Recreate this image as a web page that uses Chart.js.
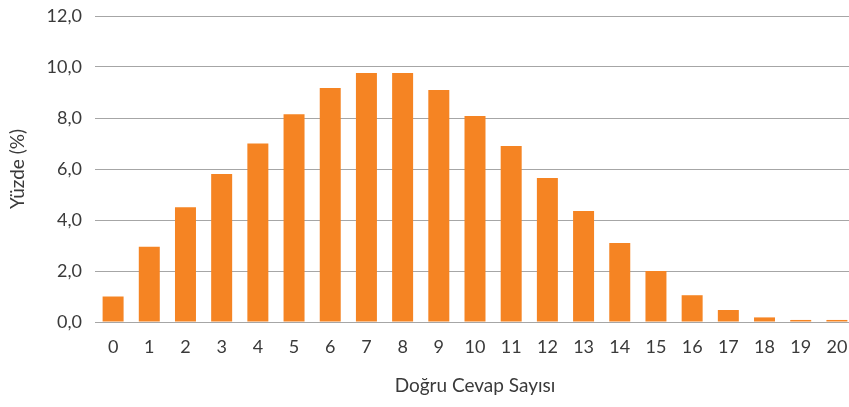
<!DOCTYPE html>
<html>
<head>
<meta charset="utf-8">
<script src="https://cdn.jsdelivr.net/npm/chart.js@4.4.1/dist/chart.umd.min.js"></script>
<style>
  html, body { margin: 0; padding: 0; background: #fff; overflow: hidden; }
  #chart { display: block; }
</style>
</head>
<body>
<canvas id="chart" width="855" height="407"></canvas>
<script>
// Data
const answerCounts = ['0','1','2','3','4','5','6','7','8','9','10','11','12','13','14','15','16','17','18','19','20'];
const percentages = [1.0, 2.95, 4.5, 5.8, 7.0, 8.15, 9.18, 9.76, 9.76, 9.1, 8.08, 6.9, 5.65, 4.35, 3.1, 2.0, 1.05, 0.47, 0.18, 0.08, 0.08];
const yTicks = [0, 2, 4, 6, 8, 10, 12];

const fontFamily = 'Lato, "Noto Sans", sans-serif';
const textColor = '#3a3a3a';

const ctx = document.getElementById('chart').getContext('2d');
new Chart(ctx, {
  type: 'bar',
  data: {
    labels: answerCounts,
    datasets: [{
      label: 'Yüzde',
      data: percentages,
      backgroundColor: '#F58423',
      borderWidth: 0,
      barPercentage: 0.58,
      categoryPercentage: 1.0
    }]
  },
  options: {
    responsive: false,
    animation: false,
    layout: { padding: { top: 16, left: 0, right: 0, bottom: 0 } },
    plugins: {
      legend: { display: false },
      tooltip: { enabled: false }
    },
    scales: {
      x: {
        grid: { display: false, drawTicks: false },
        border: { display: true, color: '#a6a6a6', width: 1 },
        ticks: { color: textColor, font: { family: fontFamily, size: 18 }, padding: 14, maxRotation: 0, autoSkip: false },
        title: {
          display: true,
          text: 'Doğru Cevap Sayısı',
          color: textColor,
          font: { family: fontFamily, size: 19 },
          padding: { top: 2, bottom: 10 }
        },
        // labels' own padding would shrink the plot on the right
        afterFit: s => {
          s.height = 85;
          s.paddingLeft = 0;
          s.paddingRight = 0;
        }
      },
      y: {
        min: 0,
        max: 12,
        afterBuildTicks: s => { s.ticks = yTicks.map(v => ({ value: v })); },
        grid: { color: '#a6a6a6', lineWidth: 1, drawTicks: false },
        border: { display: false },
        ticks: {
          color: textColor,
          font: { family: fontFamily, size: 18 },
          padding: 13,
          callback: v => v.toFixed(1).replace('.', ',')
        },
        title: {
          display: true,
          text: 'Yüzde (%)',
          color: textColor,
          font: { family: fontFamily, size: 19 },
          padding: { top: 6, bottom: 0 }
        },
        afterFit: s => {
          s.width = 95;
          s.paddingTop = 0;
          s.paddingBottom = 0;
        }
      }
    }
  }
});
</script>
</body>
</html>
